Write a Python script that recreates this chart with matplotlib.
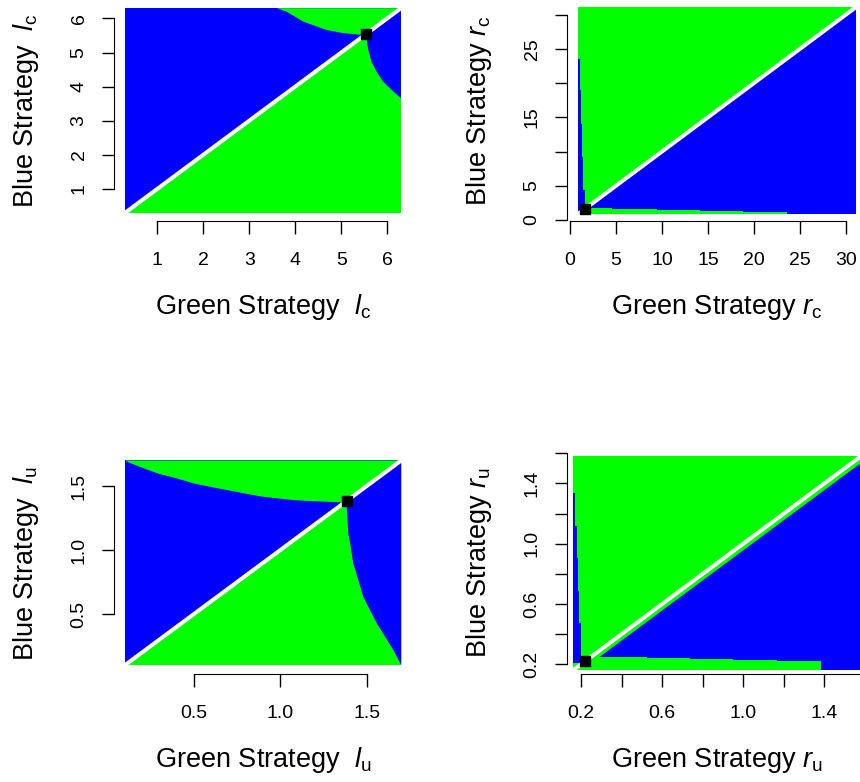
"""Best-response regions for the Green vs Blue strategy game (l_c, r_c, l_u, r_u)."""
import matplotlib; matplotlib.use("Agg")
import matplotlib.pyplot as plt

plt.rcParams["font.family"] = ["Liberation Sans", "DejaVu Sans"]
plt.rcParams["mathtext.fontset"] = "custom"
plt.rcParams["mathtext.rm"] = "Liberation Sans"
plt.rcParams["mathtext.it"] = "Liberation Sans:italic"

GREEN, BLUE = "#00ff00", "#0000ff"

# ---- panel l_c : grid range, equilibrium, boundary curves
lc_lim = (0.3, 6.3)
lc_eq = 5.54
lc_top_x = [3.60, 3.81, 4.17, 4.68, 5.04, 5.41, 5.54]
lc_top_y = [6.30, 6.20, 5.91, 5.66, 5.57, 5.52, 5.54]
lc_right_x = [5.54, 5.55, 5.59, 5.66, 5.77, 5.91, 6.10, 6.30]
lc_right_y = [5.54, 5.42, 5.08, 4.73, 4.44, 4.15, 3.90, 3.66]

# ---- panel r_c : blue strip on the left, green band at the bottom (stepped)
rc_lim = (0.9, 31.15)
rc_eq = 1.62
rc_strip_y = [0.9, 4.4, 9.2, 14.1, 19.0, 23.6]
rc_strip_x = [1.63, 1.41, 1.30, 1.20, 1.05]
rc_band_x = [1.1, 4.53, 9.43, 14.15, 18.86, 23.6]
rc_band_y = [1.70, 1.56, 1.41, 1.27, 1.17]

# ---- panel l_u
lu_lim = (0.1, 1.7)
lu_eq = 1.384
lu_top_x = [0.10, 0.13, 0.21, 0.30, 0.40, 0.50, 0.59, 0.69, 0.79, 0.88, 0.98, 1.08, 1.17, 1.27, 1.345, 1.375]
lu_top_y = [1.70, 1.68, 1.638, 1.594, 1.56, 1.52, 1.495, 1.469, 1.443, 1.42, 1.404, 1.39, 1.383, 1.377, 1.373, 1.375]
lu_right_x = [1.384, 1.384, 1.393, 1.407, 1.422, 1.451, 1.48, 1.519, 1.558, 1.606, 1.654, 1.70]
lu_right_y = [1.384, 1.338, 1.13, 1.026, 0.896, 0.766, 0.635, 0.531, 0.427, 0.323, 0.219, 0.10]

# ---- panel r_u
ru_lim = (0.16, 1.58)
ru_eq = 0.222
ru_gap = 0.045          # green fringe under the diagonal
ru_strip_y = [0.21, 0.472, 0.686, 0.903, 1.117, 1.338]
ru_strip_x = [0.200, 0.189, 0.184, 0.179, 0.172]
ru_band_x = [0.20, 0.524, 0.737, 0.951, 1.165, 1.382]
ru_band_y = [0.25, 0.244, 0.235, 0.228, 0.222]

W, H = 860, 782
fig = plt.figure(figsize=(W / 100, H / 100), dpi=100)


def panel(box, xlim, ylim):
    x0, y0, x1, y1 = box
    ax = fig.add_axes([x0 / W, 1 - y1 / H, (x1 - x0) / W, (y1 - y0) / H])
    ax.set_xlim(xlim); ax.set_ylim(ylim)
    ax.spines["top"].set_visible(False); ax.spines["right"].set_visible(False)
    ax.tick_params(direction="out", length=9, width=1, labelsize=14)
    ax.tick_params(axis="x", pad=13)
    ax.tick_params(axis="y", pad=10, labelrotation=90)
    return ax, x1 - x0, y1 - y0


def dress(ax, w, h, ticks, labels, bounds, xlab, ylab):
    ax.set_xticks(ticks, labels); ax.set_yticks(ticks, labels)
    plt.setp(ax.get_yticklabels(), va="center")
    ax.spines["bottom"].set_bounds(*bounds); ax.spines["left"].set_bounds(*bounds)
    ax.set_xlabel(xlab, fontsize=19.5, va="baseline"); ax.xaxis.set_label_coords(0.5, -93 / h)
    ax.set_ylabel(ylab, fontsize=19.5, va="baseline"); ax.yaxis.set_label_coords(-81 / w, 0.5)


def halves(ax, lim, below, above):
    a, b = lim
    ax.fill([a, b, b], [a, a, b], color=below, lw=0)
    ax.fill([a, a, b], [a, b, b], color=above, lw=0)


def finish(ax, lim, eq):
    a, b = lim
    ax.plot([a, b], [a, b], color="white", lw=2.9, solid_capstyle="butt")
    ax.plot([eq], [eq], "s", color="black", ms=7.2)


# l_c
ax, w, h = panel((114, 0, 412, 221), (0.06, 6.54), (0.06, 6.54))
halves(ax, lc_lim, GREEN, BLUE)
ax.fill(lc_top_x + [lc_lim[1]], lc_top_y + [lc_lim[1]], color=GREEN, lw=0)
ax.fill(lc_right_x + [lc_lim[1]], lc_right_y + [lc_lim[1]], color=BLUE, lw=0)
finish(ax, lc_lim, lc_eq)
dress(ax, w, h, [1, 2, 3, 4, 5, 6], ["1", "2", "3", "4", "5", "6"], (1, 6),
      r"Green Strategy  $\mathit{l}_{\mathrm{c}}$", r"Blue Strategy  $\mathit{l}_{\mathrm{c}}$")

# r_c
ax, w, h = panel((567, 0, 866, 221), (-0.33, 32.2), (-0.15, 32.15))
halves(ax, rc_lim, BLUE, GREEN)
ax.fill_betweenx(rc_strip_y, rc_lim[0], rc_strip_x + rc_strip_x[-1:], step="post", color=BLUE, lw=0)
ax.fill_between(rc_band_x, rc_lim[0], rc_band_y + rc_band_y[-1:], step="post", color=GREEN, lw=0)
finish(ax, rc_lim, rc_eq)
dress(ax, w, h, [0, 5, 10, 15, 20, 25, 30], ["0", "5", "10", "15", "20", "25", "30"], (0, 30),
      r"Green Strategy $\mathit{r}_{\mathrm{c}}$", r"Blue Strategy $\mathit{r}_{\mathrm{c}}$")
ax.set_yticks([0, 5, 10, 15, 20, 25, 30], ["0", "5", "", "15", "", "25", ""])
plt.setp(ax.get_yticklabels(), va="center")

# l_u
ax, w, h = panel((114, 452, 412, 674), (0.037, 1.762), (0.031, 1.766))
halves(ax, lu_lim, GREEN, BLUE)
ax.fill(lu_top_x + [lu_lim[1]], lu_top_y + [lu_lim[1]], color=GREEN, lw=0)
ax.fill(lu_right_x + [lu_lim[1]], lu_right_y + [lu_lim[1]], color=BLUE, lw=0)
finish(ax, lu_lim, lu_eq)
dress(ax, w, h, [0.5, 1.0, 1.5], ["0.5", "1.0", "1.5"], (0.5, 1.5),
      r"Green Strategy  $\mathit{l}_{\mathrm{u}}$", r"Blue Strategy  $\mathit{l}_{\mathrm{u}}$")

# r_u
ax, w, h = panel((567, 452, 866, 674), (0.131, 1.605), (0.136, 1.608))
a, b = ru_lim
ax.fill([a, a, b, b], [a, b, b, a], color=GREEN, lw=0)
ax.fill([a + ru_gap, b, b], [a, a, b - ru_gap], color=BLUE, lw=0)
ax.fill_between(ru_band_x, a, ru_band_y + ru_band_y[-1:], step="post", color=GREEN, lw=0)
ax.fill_betweenx(ru_strip_y, a, ru_strip_x + ru_strip_x[-1:], step="post", color=BLUE, lw=0)
finish(ax, ru_lim, ru_eq)
ru_ticks = [0.2, 0.4, 0.6, 0.8, 1.0, 1.2, 1.4, 1.6]
ru_labels = ["0.2", "", "0.6", "", "1.0", "", "1.4", ""]
dress(ax, w, h, ru_ticks, ru_labels, (0.2, 1.6),
      r"Green Strategy $\mathit{r}_{\mathrm{u}}$", r"Blue Strategy $\mathit{r}_{\mathrm{u}}$")

fig.savefig("out.png", dpi=100)
